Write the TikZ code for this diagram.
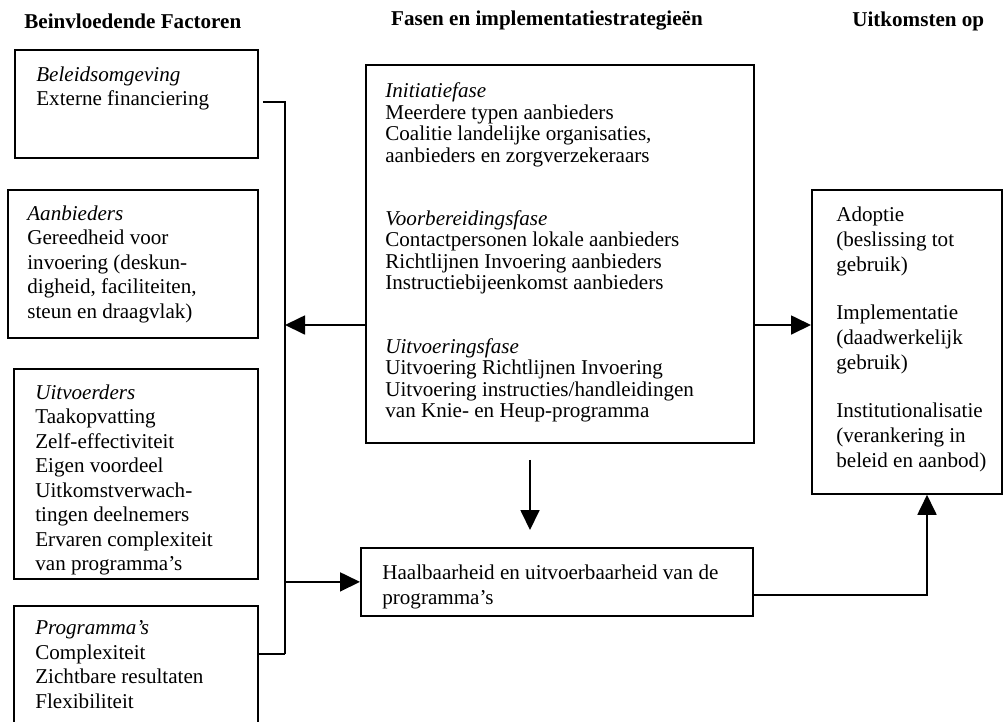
\documentclass[tikz,border=0pt]{standalone}
\usepackage{fontspec}
\setmainfont{Liberation Serif}
\usetikzlibrary{arrows.meta,positioning}

\tikzset{
  box/.style={draw, line width=1pt, inner sep=0pt, anchor=north west},
  txt/.style={inner sep=0pt, align=left, font=\fontsize{12}{13.9}\selectfont},
  txtc/.style={txt, font=\fontsize{12}{12.2}\selectfont},
  txtr/.style={txt, font=\fontsize{12}{14.2}\selectfont},
  kop/.style={inner sep=0pt, font=\fontsize{12}{14}\selectfont\bfseries},
  lijn/.style={line width=1pt},
  pijl/.style={line width=1pt, -{Triangle[length=0.4cm,width=0.38cm]}}
}

\begin{document}
\begin{tikzpicture}
\useasboundingbox (0,0) rectangle (20.06,-14.42);
\clip (0,0) rectangle (20.06,-14.42);
%
% kopjes
\node [kop, anchor=west] at (0.48,-0.42) (titfac) {Beinvloedende Factoren};
\node [kop] at (10.94,-0.42) (titfas) {Fasen en implementatiestrategieën};
\node [kop, anchor=west] at (17.04,-0.42) (tituit) {Uitkomsten op};
%
% factoren links
\node [box, minimum width=4.86cm, minimum height=2.16cm] at (0.28,-0.98) (bel) {};
\node [box, minimum width=5.00cm, minimum height=2.96cm] at (0.14,-3.78) (aanb) {};
\node [box, minimum width=4.88cm, minimum height=4.20cm] at (0.26,-7.36) (uitv) {};
\node [box, minimum width=4.88cm, minimum height=3.00cm] at (0.26,-12.10) (prog) {};
\node [txt, below right=0.35cm and 0.44cm of bel.north west] (bel t)
  {\textit{Beleidsomgeving}\\Externe financiering};
\node [txt, below right=0.33cm and 0.40cm of aanb.north west] (aanb t)
  {\textit{Aanbieders}\\Gereedheid voor\\invoering (deskun-\\digheid, faciliteiten,\\steun en draagvlak)};
\node [txt, below right=0.33cm and 0.44cm of uitv.north west] (uitv t)
  {\textit{Uitvoerders}\\Taakopvatting\\Zelf-effectiviteit\\Eigen voordeel\\Uitkomstverwach-\\tingen deelnemers\\Ervaren complexiteit\\van programma's};
\node [txt, below right=0.31cm and 0.44cm of prog.north west] (prog t)
  {\textit{Programma's}\\Complexiteit\\Zichtbare resultaten\\Flexibiliteit};
%
% fasen midden
\node [box, minimum width=7.76cm, minimum height=7.56cm] at (7.30,-1.28) (fasen) {};
\node [txtc, below right=0.37cm and 0.40cm of fasen.north west] (fasen t)
  {\textit{Initiatiefase}\\Meerdere typen aanbieders\\Coalitie landelijke organisaties,\\aanbieders en zorgverzekeraars\\[0.84cm]%
   \textit{Voorbereidingsfase}\\Contactpersonen lokale aanbieders\\Richtlijnen Invoering aanbieders\\Instructiebijeenkomst aanbieders\\[0.84cm]%
   \textit{Uitvoeringsfase}\\Uitvoering Richtlijnen Invoering\\Uitvoering instructies/handleidingen\\van Knie- en Heup-programma};
\node [box, minimum width=7.84cm, minimum height=1.36cm] at (7.20,-10.94) (haal) {};
\node [txtr, below right=0.35cm and 0.44cm of haal.north west] (haal t)
  {Haalbaarheid en uitvoerbaarheid van de\\programma's};
%
% uitkomsten rechts
\node [box, minimum width=3.80cm, minimum height=6.08cm] at (16.22,-3.78) (uitk) {};
\node [txtr, below right=0.35cm and 0.50cm of uitk.north west] (uitk t)
  {Adoptie\\(beslissing tot\\gebruik)\\[0.46cm]Implementatie\\(daadwerkelijk\\gebruik)\\[0.46cm]Institutionalisatie\\(verankering in\\beleid en aanbod)};
%
\coordinate (bustop) at (5.70,-2.04);
\coordinate (busbot) at (5.70,-13.08);
\coordinate (mid) at (0,-6.50);
\coordinate (dn) at (10.60,0);
\coordinate (up) at (18.54,-11.90);
%
\draw [lijn] ([xshift=0.08cm]bel.east |- bustop) -- (bustop) -- (busbot);
\draw [lijn] (prog.east |- busbot) -- (busbot);
\draw [pijl] (fasen.west |- mid) -- (bustop |- mid);
\draw [pijl] (fasen.east |- mid) -- (uitk.west |- mid);
\draw [pijl] (bustop |- haal.west) -- (haal.west);
\draw [pijl] ([yshift=-0.32cm]fasen.south -| dn) -- ([yshift=0.34cm]haal.north -| dn);
\draw [pijl] (haal.east |- up) -- (up) -- (up |- uitk.south);
\end{tikzpicture}
\end{document}
